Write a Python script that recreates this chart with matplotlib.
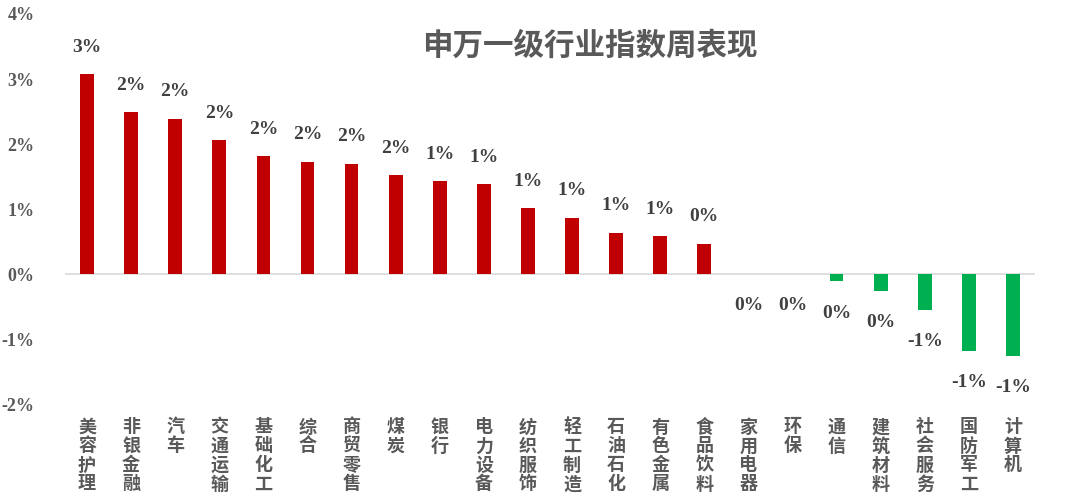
import numpy as np
import matplotlib.pyplot as plt
from matplotlib.ticker import FuncFormatter

# Weekly returns of SW level-1 industries (%)
industries = ["美容护理", "非银金融", "汽车", "交通运输", "基础化工", "综合", "商贸零售",
              "煤炭", "银行", "电力设备", "纺织服饰", "轻工制造", "石油石化", "有色金属",
              "食品饮料", "家用电器", "环保", "通信", "建筑材料", "社会服务", "国防军工", "计算机"]
returns = [3.06, 2.48, 2.38, 2.05, 1.80, 1.72, 1.69, 1.51, 1.42, 1.37, 1.01, 0.86,
           0.63, 0.58, 0.46, -0.01, -0.01, -0.12, -0.26, -0.55, -1.18, -1.26]
yticks = [-2, -1, 0, 1, 2, 3, 4]

red = "#C00000"
green = "#00B050"
gray = "#595959"
serif = ["Liberation Serif", "DejaVu Serif"]
cjk = ["Noto Sans CJK SC", "DejaVu Sans"]

fig = plt.figure(figsize=(10.8, 5.02), dpi=100)
ax = fig.add_axes([65 / 1080, 1 - 405 / 502, 970 / 1080, (405 - 14) / 502])

x = np.arange(len(industries))
colors = [red if v > 0 else green for v in returns]
ax.bar(x, returns, width=0.31, color=colors, zorder=2)
ax.axhline(0, color="#D9D9D9", linewidth=1.2, zorder=1)

# data labels, rounded to whole percent
for xi, v in zip(x, returns):
    txt = "{:.0f}%".format(v)
    if txt == "-0%":
        txt = "0%"
    ax.annotate(txt, (xi, v), xytext=(0, 20 if v > 0 else -22), textcoords="offset points",
                ha="center", va="center", fontsize=14, fontweight="bold",
                color="#404040", family=serif)

ax.set_xlim(-0.5, len(industries) - 0.5)
ax.set_ylim(-2, 4)
ax.set_yticks(yticks)
ax.yaxis.set_major_formatter(FuncFormatter(lambda v, p: "{:.0f}%".format(v)))
for lab in ax.get_yticklabels():
    lab.set_family(serif)
    lab.set_fontweight("bold")
    lab.set_fontsize(13)
    lab.set_color(gray)

ax.set_xticks(x)
ax.set_xticklabels(["\n".join(name) for name in industries], family=cjk,
                   fontsize=13, fontweight="bold", color=gray, linespacing=1.0)
ax.tick_params(axis="both", length=0)
ax.tick_params(axis="x", pad=9)
ax.tick_params(axis="y", pad=22)
for s in ax.spines.values():
    s.set_visible(False)

fig.text(590 / 1080, 1 - 46 / 502, "申万一级行业指数周表现", ha="center", va="center",
         fontsize=22, fontweight="bold", color=gray, family=cjk)

fig.savefig("out.png", dpi=100)
